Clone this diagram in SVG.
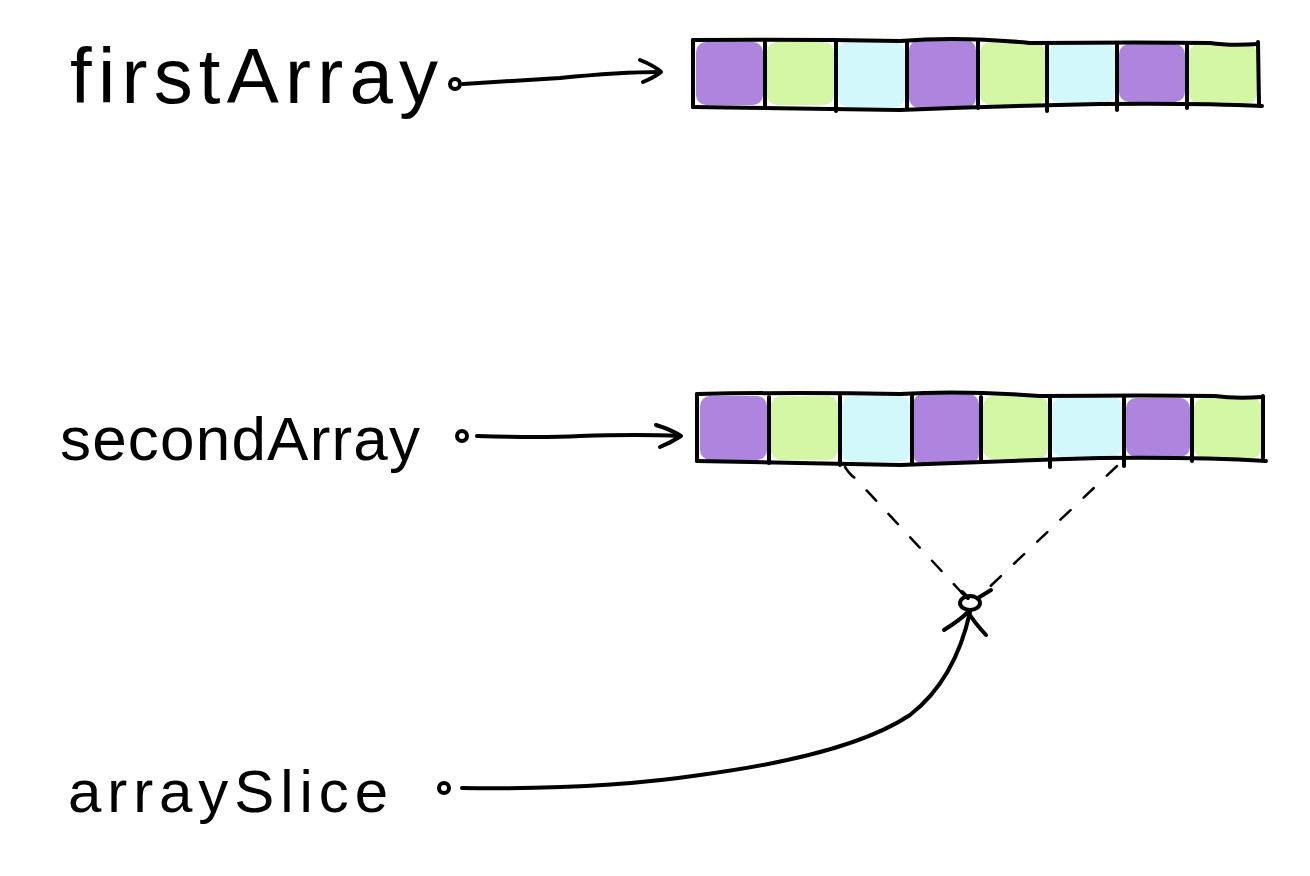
<svg xmlns="http://www.w3.org/2000/svg" width="1310" height="876" viewBox="0 0 1310 876">
<style>
.ink{fill:none;stroke:#000;stroke-width:4;stroke-linecap:round;stroke-linejoin:round}
.dash{fill:none;stroke:#000;stroke-width:2.5;stroke-linecap:round;stroke-dasharray:14 18}
.lbl{font-family:"Liberation Sans","DejaVu Sans",sans-serif;fill:#000}
.p{fill:#ad84de}.g{fill:#d4f7a6}.c{fill:#d2f8fb}
</style>
<rect width="1310" height="876" fill="#fff"/>
<g id="firstArray">
<text class="lbl" x="70" y="103" font-size="78" textLength="368" lengthAdjust="spacing">firstArray</text>
<rect class="p" x="696" y="42" width="67" height="63" rx="10"/>
<rect class="g" x="767" y="42" width="67" height="63" rx="10"/>
<rect class="c" x="838" y="42" width="67" height="65" rx="10"/>
<rect class="p" x="909" y="40" width="67" height="68" rx="10"/>
<rect class="g" x="980" y="42" width="65" height="63" rx="10"/>
<rect class="c" x="1049" y="43" width="66" height="60" rx="10"/>
<rect class="p" x="1119" y="44" width="66" height="58" rx="10"/>
<rect class="g" x="1189" y="44" width="68" height="60" rx="10"/>
<path class="ink" d="M693 40 Q800 39 900 41 Q960 36 1030 43 Q1150 42 1210 43 Q1230 46 1258 44"/>
<path class="ink" d="M693 107 Q800 109 900 110 Q1000 106 1100 104 Q1200 103 1262 106"/>
<path class="ink" d="M693 40 L693 107 M765 42 L765 108 M836 41 L836 111 M907 41 L907 109 M978 42 L978 108 M1047 43 L1047 111 M1117 43 L1117 110 M1187 43 L1187 108 M1258 42 L1259 104"/>
</g>
<g id="secondArray">
<text class="lbl" x="60" y="460" font-size="62" textLength="360" lengthAdjust="spacing">secondArray</text>
<rect class="p" x="700" y="396" width="67" height="64" rx="10"/>
<rect class="g" x="771" y="396" width="67" height="64" rx="10"/>
<rect class="c" x="842" y="396" width="68" height="66" rx="10"/>
<rect class="p" x="913" y="394" width="66" height="70" rx="10"/>
<rect class="g" x="983" y="396" width="65" height="63" rx="10"/>
<rect class="c" x="1052" y="397" width="70" height="60" rx="10"/>
<rect class="p" x="1126" y="398" width="64" height="59" rx="10"/>
<rect class="g" x="1194" y="398" width="68" height="60" rx="10"/>
<path class="ink" d="M697 394 Q800 392 900 394 Q960 390 1040 396 Q1150 395 1215 396 Q1235 399 1262 397"/>
<path class="ink" d="M697 461 Q800 463 900 465 Q1000 461 1100 458 Q1200 457 1266 461"/>
<path class="ink" d="M697 394 L697 461 M769 397 L769 463 M840 396 L840 465 M912 396 L912 464 M981 397 L981 462 M1050 397 L1050 467 M1124 398 L1124 466 M1192 398 L1192 461 M1263 396 L1263 458"/>
</g>
<g id="arraySlice">
<text class="lbl" x="68" y="812" font-size="60" textLength="320" lengthAdjust="spacing">arraySlice</text>
</g>
<g id="connectors">
<circle class="ink" cx="455" cy="84" r="5" stroke-width="3"/>
<path class="ink" d="M463 84 Q530 80 560 78 Q620 72 660 72"/>
<path class="ink" d="M640 60 Q655 66 661 72 Q655 77 643 82"/>
<circle class="ink" cx="462" cy="436" r="5" stroke-width="3"/>
<path class="ink" d="M477 436 Q540 438 580 436 Q640 434 680 436"/>
<path class="ink" d="M656 425 Q672 430 681 436 Q672 442 660 447"/>
<path class="dash" d="M845 467 Q850 475 855 478 L962 593"/>
<path class="dash" d="M1117 466 L980 596"/>
<ellipse class="ink" cx="970" cy="603" rx="10" ry="7"/>
<path class="ink" d="M962 592 L968 598 M978 598 L991 590"/>
<circle class="ink" cx="444" cy="788" r="5" stroke-width="3"/>
<path class="ink" d="M462 788 Q600 790 700 775 Q850 755 910 715 Q955 680 970 612"/>
<path class="ink" d="M944 630 Q960 620 968 612 Q974 622 986 635"/>
</g>
</svg>
